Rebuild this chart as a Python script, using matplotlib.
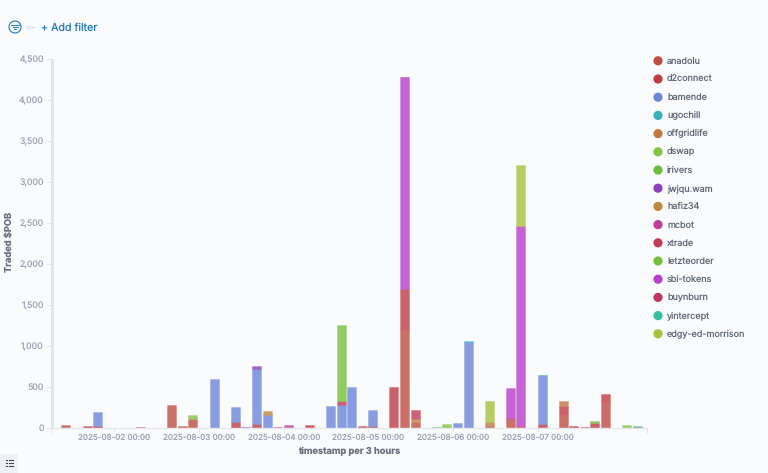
"""Traded $POB per 3 hours, stacked by account (Kibana style)."""
from datetime import datetime, timedelta

import matplotlib
matplotlib.use("Agg")
import matplotlib.dates as mdates
import matplotlib.pyplot as plt
import numpy as np
from matplotlib.patches import Circle, Rectangle

plt.rcParams["font.family"] = ["Inter", "DejaVu Sans"]
plt.rcParams["text.hinting"] = "no_hinting"
plt.rcParams["text.hinting_factor"] = 1

W, H = 768, 473
BG = "#FAFBFD"
T0 = datetime(2025, 8, 2)

# Slots are counted in 3 hour steps from 2025-08-02 00:00
SLOTS = list(range(-5, 50))

anadolu_s = [-5, 5, 6, 7, 27, 28, 35, 37, 38, 42, 46]
anadolu_v = [40, 276, 25, 114, 1200, 73, 25, 110, 25, 175, 317]
d2connect_s = [-3, -2, 11, 13, 18, 24, 26, 27, 40, 42, 43, 44, 45, 46, 49]
d2connect_v = [20, 20, 73, 49, 37, 25, 496, 490, 49, 93, 25, 15, 61, 101, 15]
bamende_s = [-2, 9, 11, 13, 14, 20, 21, 22, 24, 32, 33, 40]
bamende_v = [180, 600, 183, 666, 154, 264, 280, 500, 190, 65, 1053, 593]
ugochill_s = [33]
ugochill_v = [7]
offgridlife_s = [35, 42]
offgridlife_v = [48, 61]
dswap_s = [7, 31, 48]
dswap_v = [40, 45, 36]
irivers_s = [45]
irivers_v = [29]
jwjqu_s = [12, 13]
jwjqu_v = [12, 45]
hafiz34_s = [14, 28]
hafiz34_v = [53, 33]
mcbot_s = [16]
mcbot_v = [40]
xtrade_s = [2, 15, 21, 23, 28, 37]
xtrade_v = [10, 12, 49, 20, 114, 6]
letzteorder_s = [21]
letzteorder_v = [927]
sbi_s = [27, 37, 38]
sbi_v = [2585, 366, 2442]
buynburn_s = [27]
buynburn_v = [10]
yintercept_s = [30, 40, 49]
yintercept_v = [12, 8, 5]
edgy_s = [35, 38]
edgy_v = [260, 740]

names = ["anadolu", "d2connect", "bamende", "ugochill", "offgridlife", "dswap",
         "irivers", "jwjqu.wam", "hafiz34", "mcbot", "xtrade", "letzteorder",
         "sbi-tokens", "buynburn", "yintercept", "edgy-ed-morrison"]
colors = ["#BF4D43", "#C23A44", "#6B86DB", "#3AAFBF", "#C4773F", "#82C23F",
          "#6CBF3E", "#8E3CC0", "#C0873E", "#C23C96", "#C03C55", "#74C23A",
          "#B93ECB", "#C23560", "#33BFA0", "#A9C13B"]
series = [(anadolu_s, anadolu_v), (d2connect_s, d2connect_v), (bamende_s, bamende_v),
          (ugochill_s, ugochill_v), (offgridlife_s, offgridlife_v), (dswap_s, dswap_v),
          (irivers_s, irivers_v), (jwjqu_s, jwjqu_v), (hafiz34_s, hafiz34_v),
          (mcbot_s, mcbot_v), (xtrade_s, xtrade_v), (letzteorder_s, letzteorder_v),
          (sbi_s, sbi_v), (buynburn_s, buynburn_v), (yintercept_s, yintercept_v),
          (edgy_s, edgy_v)]

yticks = [0, 500, 1000, 1500, 2000, 2500, 3000, 3500, 4000, 4500]
day_ticks = [datetime(2025, 8, d) for d in range(2, 8)]


def slot_center(s):
    return mdates.date2num(T0 + timedelta(hours=3 * s + 1.25))


fig = plt.figure(figsize=(W / 100, H / 100), dpi=100, facecolor=BG)
ax = fig.add_axes([51 / W, (H - 428) / H, 596 / W, 369 / H], facecolor="none")

xs = np.array([slot_center(s) for s in SLOTS])
bottom = np.zeros(len(SLOTS))
bar_w = 2.55 / 24
for name, col, (ss, vv) in zip(names, colors, series):
    vals = np.zeros(len(SLOTS))
    for s, v in zip(ss, vv):
        vals[SLOTS.index(s)] = v
    m = vals > 0
    if m.any():
        ax.bar(xs[m], vals[m], bottom=bottom[m], width=bar_w,
               color=matplotlib.colors.to_rgba(col, 0.8),
               edgecolor=matplotlib.colors.to_rgba(col, 0.25), linewidth=0.7)
    bottom += vals

ax.set_xlim(mdates.date2num(T0 - timedelta(hours=18)),
            mdates.date2num(T0 + timedelta(hours=151)))
ax.set_ylim(0, 4500)
ax.set_xticks(mdates.date2num(day_ticks))
ax.xaxis.set_major_formatter(mdates.DateFormatter("%Y-%m-%d %H:%M"))
ax.set_yticks(yticks)
ax.set_yticklabels([f"{v:,}" for v in yticks])
ax.tick_params(axis="both", colors="#E0E3E8", labelcolor="#9AA3B2", width=0.8)
ax.tick_params(axis="x", length=3, pad=1.0, labelsize=5.8)
ax.tick_params(axis="y", length=3, pad=2.2, labelsize=6.3)
for side in ["top", "right", "left"]:
    ax.spines[side].set_visible(False)
ax.spines["bottom"].set_color("#E4E7EC")
ax.spines["bottom"].set_linewidth(1)
ax.set_ylabel("Traded \\$POB", fontsize=6.7, fontweight="bold", color="#69707D", va="center")
ax.yaxis.set_label_coords((10 - 51) / 596, (428 - 242) / 369)
ax.set_xlabel("timestamp per 3 hours", fontsize=6.7, fontweight="bold",
              color="#69707D", va="center")
ax.xaxis.set_label_coords(0.5, (428 - 451) / 369)

# Kibana chrome, in pixel coordinates
ov = fig.add_axes([0, 0, 1, 1], facecolor="none")
ov.set_xlim(0, W)
ov.set_ylim(H, 0)
ov.axis("off")
ov.add_patch(Rectangle((50.5, 59), 3.5, 369, color="#E2E4E8", lw=0))
for px in [51, 647]:
    ov.plot([px, px], [428, 432], color="#E0E3E8", lw=0.8)

# filter bar
blue = "#1F77B8"
ov.add_patch(Circle((15, 27), 6, fill=False, ec=blue, lw=0.8))
for half, yy in zip([3.8, 2.5, 1.1], [24.8, 27, 29.3]):
    ov.plot([15 - half, 15 + half], [yy, yy], color=blue, lw=0.7)
ov.plot([26, 34], [27, 27], color="#DDE1E7", lw=1)
ov.text(41, 27.5, "+ Add filter", color=blue, fontsize=7.7, va="center", ha="left")

# legend
for i, (name, col) in enumerate(zip(names, colors)):
    yy = 60.8 + 18.2 * i
    ov.add_patch(Circle((658, yy), 4.6, color=col, lw=0))
    ov.text(667, yy + 0.3, name, color="#5F6777", fontsize=6.5, va="center", ha="left")

# small list button, bottom left
ov.add_patch(Rectangle((0, 454), 18, 19, color="#EDF0F4", lw=0))
for yy in [460, 463, 466]:
    ov.plot([6, 7], [yy, yy], color="#3F4654", lw=0.8)
    ov.plot([8.5, 13], [yy, yy], color="#3F4654", lw=0.8)

fig.savefig("out.png", dpi=100, facecolor=BG)
